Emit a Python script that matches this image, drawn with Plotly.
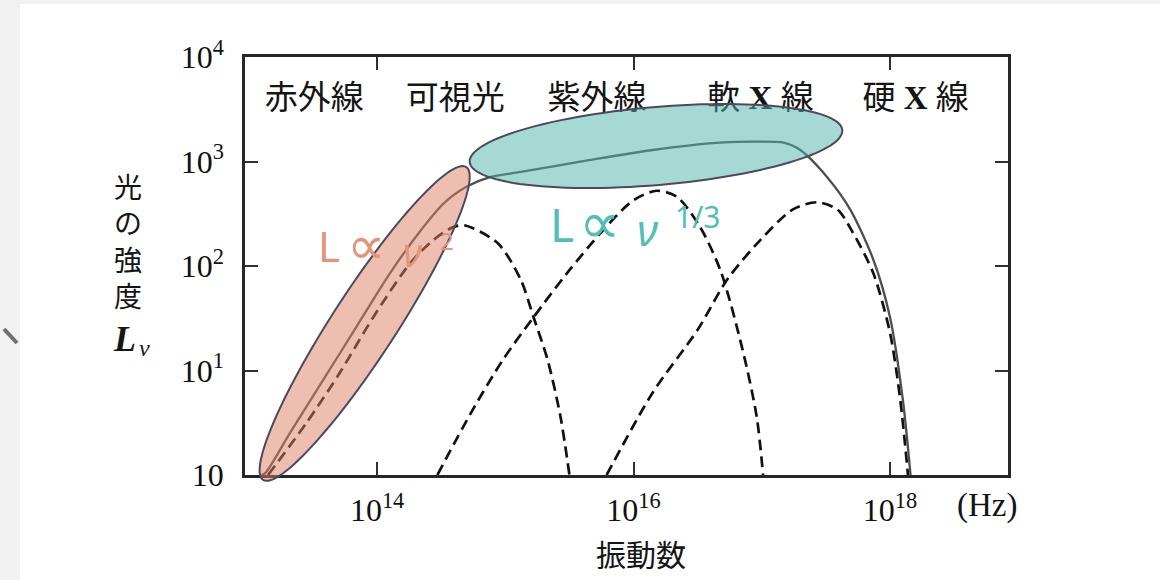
import numpy as np
import plotly.graph_objects as go

# ---------------- data (log10 values) ----------------
# total (multi-colour disk) spectrum, solid line
total_log_nu = [13.10, 13.13, 13.32, 13.58, 13.84, 14.10, 14.34, 14.52, 14.70, 14.88,
                15.12, 15.64, 16.15, 16.67, 16.95, 17.17, 17.30, 17.51, 17.69, 17.87,
                18.00, 18.10, 18.16]
total_log_L = [0.00, 0.02, 0.40, 0.91, 1.42, 1.93, 2.34, 2.60, 2.76, 2.85,
               2.90, 3.01, 3.11, 3.18, 3.19, 3.18, 3.11, 2.85, 2.54, 2.06,
               1.51, 0.72, 0.00]

# black-body components, dashed lines
bb1_log_nu = [13.15, 13.45, 13.71, 13.97, 14.26, 14.44, 14.59, 14.68, 14.94, 15.12,
              15.22, 15.33, 15.43, 15.50]
bb1_log_L = [0.00, 0.50, 0.98, 1.51, 2.03, 2.25, 2.37, 2.39, 2.22, 1.87,
             1.51, 1.10, 0.56, 0.00]

bb2_log_nu = [14.47, 14.73, 14.98, 15.22, 15.48, 15.76, 16.00, 16.18, 16.34, 16.52,
              16.68, 16.85, 16.96, 17.01]
bb2_log_L = [0.00, 0.59, 1.10, 1.51, 1.93, 2.34, 2.63, 2.72, 2.66, 2.37,
             1.95, 1.20, 0.56, 0.00]

bb3_log_nu = [15.79, 16.15, 16.50, 16.73, 16.99, 17.24, 17.43, 17.59, 17.71, 17.87,
              18.00, 18.08, 18.14]
bb3_log_L = [0.00, 0.79, 1.39, 1.87, 2.25, 2.54, 2.61, 2.54, 2.32, 1.93,
             1.36, 0.72, 0.00]

# axis ticks
x_tickvals = [1e14, 1e16, 1e18]
x_ticktext = ["10<sup>14</sup>", "10<sup>16</sup>", "10<sup>18</sup>"]
y_tickvals = [1, 10, 100, 1000, 10000]
y_ticktext = ["10", "10<sup>1</sup>", "10<sup>2</sup>", "10<sup>3</sup>", "10<sup>4</sup>"]

# wavelength band labels
band_labels = ["赤外線", "可視光", "紫外線", "軟X線", "硬X線"]
band_log_nu = [13.51, 14.61, 15.715, 16.99, 18.20]
band_log_L = 3.58

# ---------------- layout geometry ----------------
W, H = 1160, 580
ML, MR, MT, MB = 245, 152, 57, 105
PW, PH = W - ML - MR, H - MT - MB
XR = [12.97, 18.92]
YR = [0.0, 4.0]
PXX = PW / (XR[1] - XR[0])   # px per decade (x)
PXY = PH / (YR[1] - YR[0])   # px per decade (y)


def pxx(px):
    return (px - ML) / PW


def pxy(py):
    return (H - MB - py) / PH


def d2p_x(lx):
    return (lx - XR[0]) / (XR[1] - XR[0])


def d2p_y(ly):
    return (ly - YR[0]) / (YR[1] - YR[0])


def ellipse_path(clx, cly, a_px, b_px, theta_deg, n=120):
    th = np.deg2rad(theta_deg)
    t = np.linspace(0, 2 * np.pi, n, endpoint=False)
    dx = a_px * np.cos(t) * np.cos(th) - b_px * np.sin(t) * np.sin(th)
    dy = a_px * np.cos(t) * np.sin(th) + b_px * np.sin(t) * np.cos(th)
    xs = d2p_x(clx + dx / PXX)
    ys = d2p_y(cly + dy / PXY)
    pts = [f"{x:.5f},{y:.5f}" for x, y in zip(xs, ys)]
    return "M " + " L ".join(pts) + " Z"


fig = go.Figure()

# band labels as a text trace (drawn beneath the highlight ellipses)
band_text = [s.replace("X", '<span style="font-family:Liberation Serif;font-weight:bold"> X </span>')
             for s in band_labels]
fig.add_trace(go.Scatter(
    x=[10 ** v for v in band_log_nu], y=[10 ** band_log_L] * len(band_labels),
    mode="text", text=band_text, textposition="middle center",
    textfont=dict(family="Noto Sans CJK JP", size=33, color="#151515"),
    hoverinfo="skip", showlegend=False, cliponaxis=False))

dash_style = dict(color="#111111", width=2.7, dash="11px,6px")
for lx, ly in [(bb1_log_nu, bb1_log_L), (bb2_log_nu, bb2_log_L), (bb3_log_nu, bb3_log_L)]:
    fig.add_trace(go.Scatter(
        x=10 ** np.array(lx), y=10 ** np.array(ly), mode="lines",
        line=dict(shape="spline", smoothing=0.8, **dash_style),
        hoverinfo="skip", showlegend=False))

fig.add_trace(go.Scatter(
    x=10 ** np.array(total_log_nu), y=10 ** np.array(total_log_L), mode="lines",
    line=dict(color="#4e4e4e", width=2.3, shape="spline", smoothing=0.8),
    hoverinfo="skip", showlegend=False))

shapes = [
    # scan background strips
    dict(type="rect", xref="paper", yref="paper", x0=pxx(0), x1=pxx(20), y0=pxy(580), y1=pxy(0),
         fillcolor="#f1f1f1", line=dict(width=0), layer="below"),
    dict(type="rect", xref="paper", yref="paper", x0=pxx(0), x1=pxx(1160), y0=pxy(4), y1=pxy(0),
         fillcolor="#f1f1f1", line=dict(width=0), layer="below"),
    dict(type="line", xref="paper", yref="paper", x0=pxx(4), y0=pxy(329), x1=pxx(17), y1=pxy(343),
         line=dict(color="#6e6e6e", width=4), layer="above"),
    # highlight ellipses
    dict(type="path", xref="paper", yref="paper",
         path=ellipse_path(13.903, 1.450, 186.5, 32, 57.0),
         fillcolor="rgba(222,128,98,0.5)", line=dict(color="#4a4a5c", width=2), layer="above"),
    dict(type="path", xref="paper", yref="paper",
         path=ellipse_path(16.175, 3.148, 187, 39, 4.9),
         fillcolor="rgba(78,180,170,0.5)", line=dict(color="#4a4a5c", width=2), layer="above"),
]

ann = []


def add_text(txt, px, py, size, color="#151515", family="Noto Sans CJK JP", xa="center"):
    ann.append(dict(text=txt, x=pxx(px), y=pxy(py), xref="paper", yref="paper",
                    showarrow=False, xanchor=xa, yanchor="middle",
                    font=dict(family=family, size=size, color=color)))


# y-axis title (vertical)
add_text("光<br>の<br>強<br>度", 128, 241, 28)
add_text("<b><i>L</i></b>", 124, 339, 36, family="Liberation Serif")
add_text("<i>ν</i>", 144, 348, 24, family="Liberation Serif")

# x-axis unit and title
add_text("(Hz)", 987, 505, 33, family="Liberation Serif")
add_text("振動数", 641, 553, 30)

# power-law annotations
teal = "#56bdb4"
salmon = "#e3957a"
add_text("L", 562, 224, 46, color=teal, family="Noto Sans")
add_text("∝", 599, 223, 58, color=teal, family="DejaVu Sans")
add_text("<i>ν</i>", 647, 229, 44, color=teal, family="Noto Sans")
add_text("1/3", 697, 216, 30, color=teal, family="Noto Sans")
add_text("L", 329, 245, 42, color=salmon, family="Noto Sans")
add_text("∝", 366, 245, 54, color=salmon, family="DejaVu Sans")
add_text("<i>ν</i>", 413, 251, 40, color=salmon, family="Noto Sans")
add_text("2", 447, 240, 24, color=salmon, family="Noto Sans")

axis_common = dict(showline=True, mirror="ticks", linecolor="#262626", linewidth=2.5,
                   ticks="inside", ticklen=13, tickwidth=1.6, tickcolor="#303030",
                   showgrid=False, zeroline=False,
                   tickfont=dict(family="Liberation Serif", size=32, color="#111111"))

fig.update_layout(
    width=W, height=H,
    margin=dict(l=ML, r=MR, t=MT, b=MB, pad=0),
    paper_bgcolor="white", plot_bgcolor="white",
    xaxis=dict(type="log", range=XR, tickvals=x_tickvals, ticktext=x_ticktext,
               ticklabelstandoff=5, **axis_common),
    yaxis=dict(type="log", range=YR, tickvals=y_tickvals, ticktext=y_ticktext,
               ticklabelstandoff=12, **axis_common),
    shapes=shapes, annotations=ann, showlegend=False,
)

fig.write_html("out.html", config={"displayModeBar": False},
               post_script="document.body.style.margin='0px';document.body.style.overflow='hidden';")
